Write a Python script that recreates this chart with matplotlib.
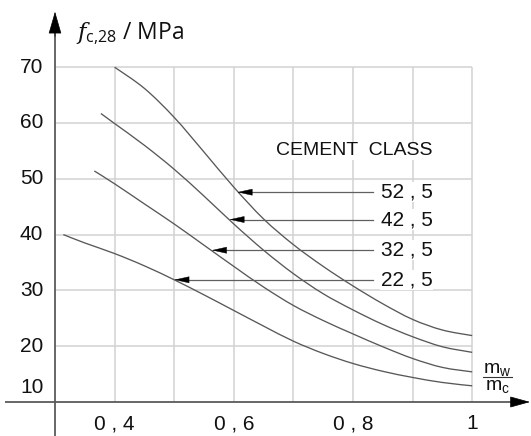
import matplotlib
matplotlib.use("Agg")
import matplotlib.pyplot as plt
from matplotlib.path import Path
from matplotlib.patches import PathPatch

# ---- data ----
x_525 = [0.40, 0.45, 0.50, 0.55, 0.60, 0.65, 0.70, 0.75, 0.80, 0.85, 0.90, 0.95, 1.00]
y_525 = [70.0, 66.2, 61.0, 54.8, 48.5, 42.8, 38.2, 34.3, 30.8, 27.6, 24.8, 22.9, 21.9]

x_425 = [0.377, 0.40, 0.45, 0.50, 0.55, 0.60, 0.65, 0.70, 0.75, 0.80, 0.85, 0.90, 0.95, 1.00]
y_425 = [61.7, 59.9, 56.0, 51.7, 46.9, 41.9, 37.2, 33.0, 29.4, 26.5, 23.9, 21.7, 19.9, 18.9]

x_325 = [0.366, 0.40, 0.45, 0.50, 0.55, 0.60, 0.65, 0.70, 0.75, 0.80, 0.85, 0.90, 0.95, 1.00]
y_325 = [51.4, 49.1, 45.5, 41.9, 38.1, 34.3, 30.6, 27.3, 24.6, 22.2, 19.9, 17.8, 16.2, 15.4]

x_225 = [0.314, 0.35, 0.40, 0.45, 0.50, 0.55, 0.60, 0.65, 0.70, 0.75, 0.80, 0.85, 0.90, 0.95, 1.00]
y_225 = [40.0, 38.5, 36.6, 34.4, 31.9, 29.2, 26.4, 23.6, 20.9, 18.7, 16.9, 15.5, 14.4, 13.5, 12.9]

classes = ["52 , 5", "42 , 5", "32 , 5", "22 , 5"]
arrow_tip_x = [0.606, 0.5925, 0.563, 0.500]
arrow_y = [47.6, 42.7, 37.2, 31.9]

x_ticks = [0.4, 0.6, 0.8, 1.0]
x_tick_labels = ["0 , 4", "0 , 6", "0 , 8", "1"]
y_ticks = [20, 30, 40, 50, 60, 70]
y_tick_labels = ["20", "30", "40", "50", "60", "70"]
x_grid = [0.4, 0.5, 0.6, 0.7, 0.8, 0.9, 1.0]
y_grid = [20, 30, 40, 50, 60, 70]


def smooth_path(xs, ys):
    """Catmull-Rom spline through the points, drawn as cubic Bezier segments."""
    pts = list(zip(xs, ys))
    verts = [pts[0]]
    codes = [Path.MOVETO]
    n = len(pts)
    for i in range(n - 1):
        p0 = pts[i - 1] if i > 0 else pts[i]
        p1 = pts[i]
        p2 = pts[i + 1]
        p3 = pts[i + 2] if i + 2 < n else pts[i + 1]
        c1 = (p1[0] + (p2[0] - p0[0]) / 6.0, p1[1] + (p2[1] - p0[1]) / 6.0)
        c2 = (p2[0] - (p3[0] - p1[0]) / 6.0, p2[1] - (p3[1] - p1[1]) / 6.0)
        verts += [c1, c2, p2]
        codes += [Path.CURVE4] * 3
    return Path(verts, codes)


# ---- figure ----
plt.rcParams['mathtext.fontset'] = 'dejavuserif'
fig = plt.figure(figsize=(5.31, 4.36), dpi=100)
ax = fig.add_axes([0, 0, 1, 1])
ax.set_xlim(0.2077, 1.0987)
ax.set_ylim(3.907, 82.04)
ax.axis('off')

grid_c = '#d2d2d2'
ax.vlines(x_grid, 10, 70, colors=grid_c, lw=1.1, zorder=1)
ax.hlines(y_grid, 0.3, 1.0, colors=grid_c, lw=1.1, zorder=1)

# axes with arrows
axis_c = '#5a5a5a'
ax.plot([0.216, 1.07], [10, 10], color=axis_c, lw=1.3, zorder=3, solid_capstyle='butt')
ax.annotate('', xy=(1.097, 10), xytext=(1.066, 10),
            arrowprops=dict(arrowstyle='-|>,head_length=1.3,head_width=0.36',
                            color='black', lw=0.5, shrinkA=0, shrinkB=0, mutation_scale=10),
            zorder=4)
ax.plot([0.3, 0.3], [3.907, 77], color=axis_c, lw=1.3, zorder=3, solid_capstyle='butt')
ax.annotate('', xy=(0.3, 79.95), xytext=(0.3, 75.5),
            arrowprops=dict(arrowstyle='-|>,head_length=1.45,head_width=0.42',
                            color='black', lw=0.5, shrinkA=0, shrinkB=0, mutation_scale=10),
            zorder=4)

# curves
curve_c = '#585858'
for xs, ys in [(x_525, y_525), (x_425, y_425), (x_325, y_325), (x_225, y_225)]:
    ax.add_patch(PathPatch(smooth_path(xs, ys), facecolor='none', edgecolor=curve_c,
                           lw=0.95, zorder=5))

# class arrows and labels
sans = 'Liberation Sans'
for lab, tx, ty in zip(classes, arrow_tip_x, arrow_y):
    ax.plot([tx + 0.015, 0.834], [ty, ty], color='#606060', lw=0.9, zorder=5)
    ax.annotate('', xy=(tx, ty), xytext=(tx + 0.022, ty),
                arrowprops=dict(arrowstyle='-|>,head_length=1.0,head_width=0.22',
                                color='black', lw=0.3, shrinkA=0, shrinkB=0, mutation_scale=10),
                zorder=6)
    ax.text(0.9337, ty, lab, ha='right', va='center', fontsize=15, family=sans,
            color='#111111', zorder=7,
            bbox=dict(facecolor='white', edgecolor='none', pad=0.5))

ax.text(0.9337, 55.0, "CEMENT  CLASS", ha='right', va='center', fontsize=14,
        family=sans, color='#111111', zorder=7,
        bbox=dict(facecolor='white', edgecolor='none', pad=0.5))

# tick labels
for v, lab in zip(y_ticks, y_tick_labels):
    ax.text(0.2804, v, lab, ha='right', va='center', fontsize=15,
            family=sans, color='#111111')
ax.text(0.2804, 12.6, "10", ha='right', va='center', fontsize=15,
        family=sans, color='#111111')
for v, lab in zip(x_ticks, x_tick_labels):
    ax.text(v, 6.06, lab, ha='center', va='center', fontsize=15,
            family=sans, color='#111111')

# axis titles
ax.text(0.3352, 74.9, r'$f_{\mathregular{c{,}28}}$ / MPa', ha='left', va='baseline',
        fontsize=16.5, family='Open Sans', color='#111111')
ax.text(1.042, 15.8, r'$\mathregular{m_w}$', ha='center', va='center',
        fontsize=14, family=sans, color='#111111')
ax.text(1.042, 12.8, r'$\mathregular{m_c}$', ha='center', va='center',
        fontsize=14, family=sans, color='#111111')
ax.plot([1.018, 1.066], [14.45, 14.45], color='#333333', lw=0.8)

fig.savefig('out.png', dpi=100)
